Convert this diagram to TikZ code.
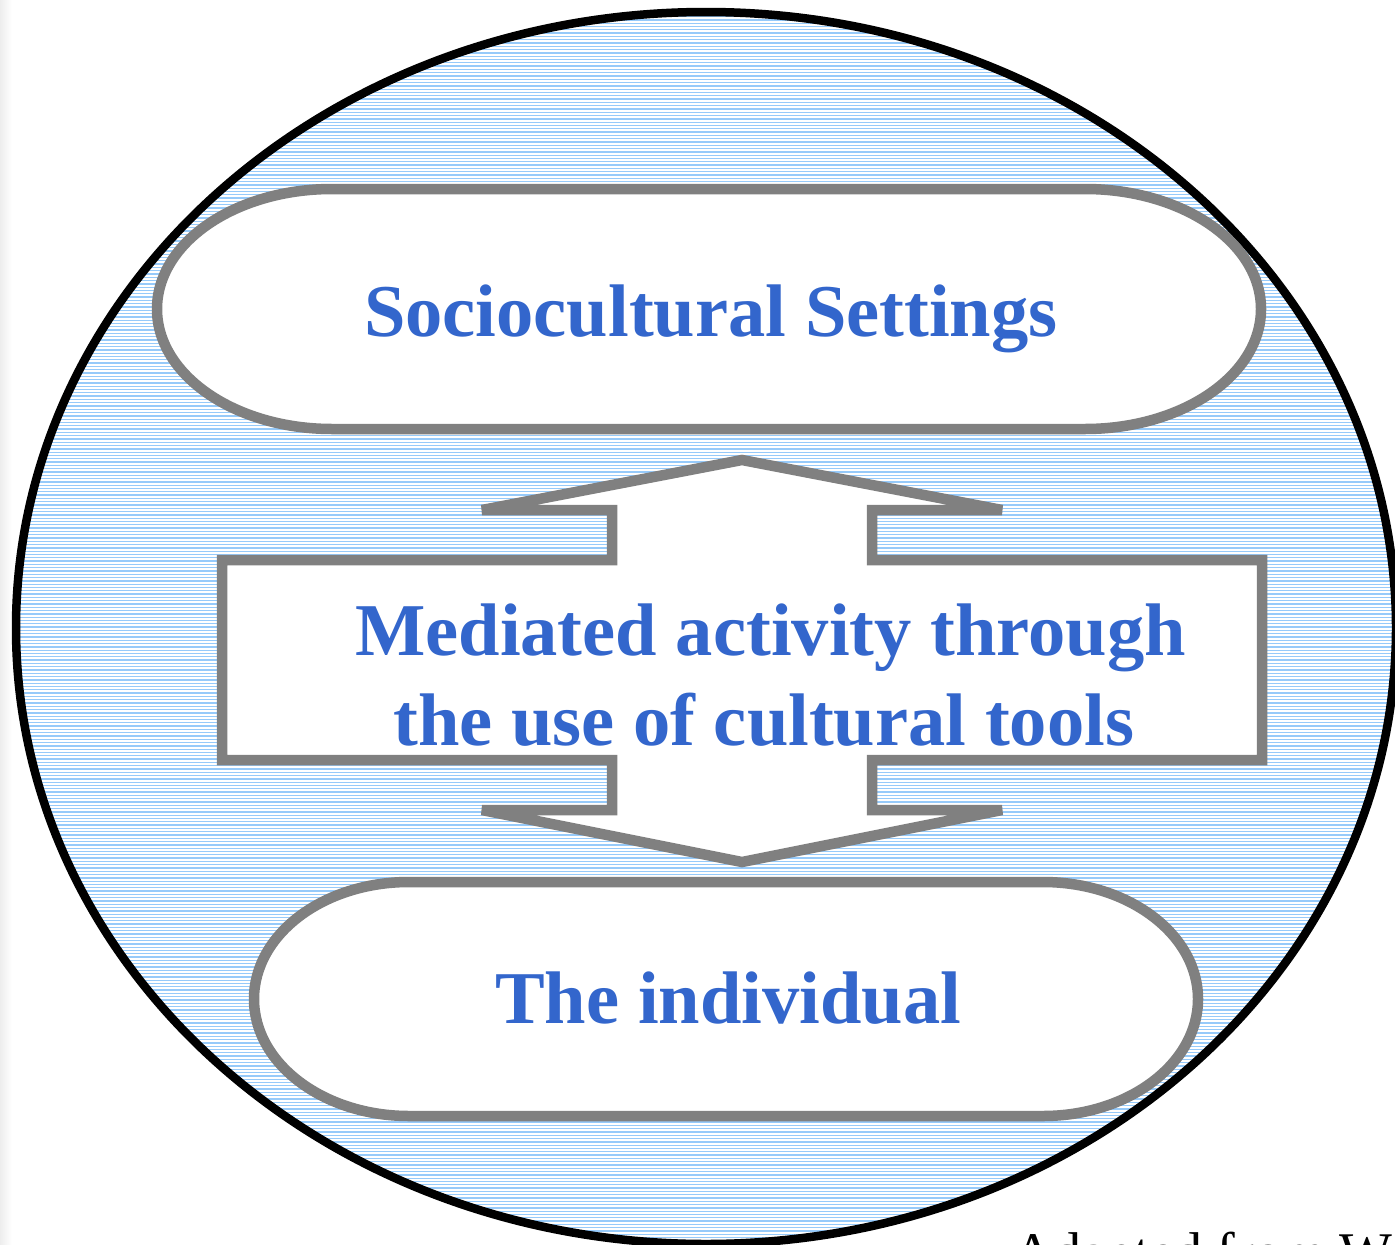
\documentclass[tikz,border=0pt]{standalone}
\usepackage{fontspec}
\setmainfont{Liberation Serif}
\definecolor{hatchblue}{RGB}{150,202,250}
\definecolor{txtblue}{RGB}{51,102,204}
\definecolor{boxgray}{RGB}{128,128,128}
\tikzset{
  shapeline/.style={draw=boxgray, line width=10.5pt, fill=white, line join=miter},
  bigtext/.style={inner sep=0pt, text=txtblue, font=\fontsize{74.5}{80}\selectfont\bfseries},
}
\begin{document}
\begin{tikzpicture}[x=1pt,y=-1pt]
\useasboundingbox (0,0) rectangle (1395,1245);
\fill[white] (0,0) rectangle (1395,1245);
\shade[left color=black!7, right color=white] (0,0) rectangle (12,1245);
% hatched ellipse
\begin{scope}
  \clip (706,628) ellipse [x radius=690, y radius=616];
  \foreach \k in {0,...,380} {
    \draw[hatchblue, line width=1.3pt] (0,{10+3.3*\k}) -- (1400,{10+3.3*\k});
  }
\end{scope}
\draw[black, line width=8.5pt] (706,628) ellipse [x radius=690, y radius=616];
% top rounded box
\path[shapeline] (332,189) -- (1085,189)
  arc[start angle=-90, end angle=90, x radius=176, y radius=120]
  -- (332,429)
  arc[start angle=90, end angle=270, x radius=175, y radius=120] -- cycle;
% bottom rounded box
\path[shapeline] (409,882) -- (1043,882)
  arc[start angle=-90, end angle=90, x radius=155, y radius=117]
  -- (409,1116)
  arc[start angle=90, end angle=270, x radius=155, y radius=117] -- cycle;
% double arrow
\path[shapeline] (742,460) -- (1002,510) -- (872,510) -- (872,560) -- (1262,560)
  -- (1262,760) -- (872,760) -- (872,810) -- (1002,810) -- (742,862)
  -- (482,810) -- (612,810) -- (612,760) -- (222,760) -- (222,560)
  -- (612,560) -- (612,510) -- (482,510) -- cycle;
% texts
\node[bigtext, anchor=base west] (soc) at (364,336) {Sociocultural Settings};
\node[bigtext, anchor=base west] (med1) at (355,655) {Mediated activity through};
\node[bigtext, anchor=base west] (med2) at (393,745) {the use of cultural tools};
\node[bigtext, anchor=base west] (ind) at (495,1023) {The individual};
\node[inner sep=0pt, anchor=base west, font=\fontsize{56}{60}\selectfont] (src) at (1013,1271) {Adapted from W};
\end{tikzpicture}
\end{document}
